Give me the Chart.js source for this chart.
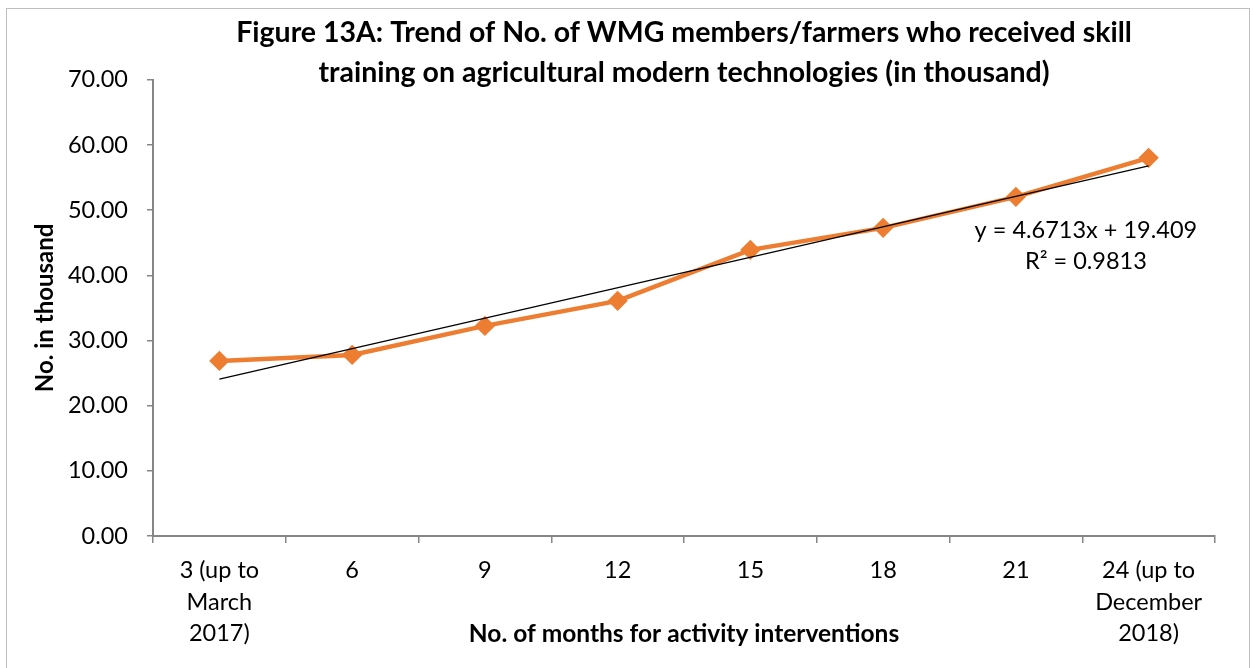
<!DOCTYPE html>
<html lang="en">
<head>
<meta charset="UTF-8">
<title>Figure 13A</title>
<script src="https://cdn.jsdelivr.net/npm/chart.js@4.4.1/dist/chart.umd.min.js"></script>
<style>
  html, body { margin: 0; padding: 0; background: #fff; }
  #wrap { position: relative; width: 1253px; height: 668px; overflow: hidden; }
  #frame { position: absolute; left: 6px; top: 8px; width: 1244px; height: 670px; border: 1px solid #bfbfbf; box-sizing: border-box; }
  canvas { position: absolute; left: 0; top: 0; }
</style>
</head>
<body>
<div id="wrap">
  <div id="frame"></div>
  <canvas id="chart" width="1253" height="668"></canvas>
</div>
<script>
// months since start of interventions
var months = [
  ['3 (up to', 'March', '2017)'],
  '6', '9', '12', '15', '18', '21',
  ['24 (up to', 'December', '2018)']
];
// No. of WMG members/farmers trained (thousand)
var trained = [26.87, 27.79, 32.24, 36.08, 43.90, 47.28, 52.04, 58.03];
// linear trendline, ends
var trend = [24.08, null, null, null, null, null, null, 56.78];
var trendLabel = ['y = 4.6713x + 19.409', 'R\u00b2 = 0.9813'];

var FONT = 'Lato, "Open Sans", sans-serif';
var axisGray = '#868686';

// equation text next to the end of the trendline
var trendText = {
  id: 'trendText',
  afterDatasetsDraw: function(chart) {
    var ctx = chart.ctx;
    var xs = chart.scales.x, ys = chart.scales.y;
    var x = xs.getPixelForValue(6) + 70;
    var y = ys.getPixelForValue(46.95);
    ctx.save();
    ctx.fillStyle = '#000';
    ctx.font = '23.5px ' + FONT;
    ctx.textAlign = 'center';
    ctx.textBaseline = 'middle';
    ctx.fillText(trendLabel[0], x, y);
    ctx.fillText(trendLabel[1], x, y + 31);
    ctx.restore();
  }
};

new Chart(document.getElementById('chart').getContext('2d'), {
  type: 'line',
  data: {
    labels: months,
    datasets: [{
      label: 'Trained',
      data: trained,
      borderColor: '#ed7d31',
      backgroundColor: '#ed7d31',
      borderWidth: 4.5,
      pointStyle: 'rectRot',
      pointRadius: 7,
      pointHoverRadius: 7,
      tension: 0,
      order: 2
    }, {
      label: 'Linear',
      data: trend,
      borderColor: '#000',
      borderWidth: 1.2,
      pointRadius: 0,
      spanGaps: true,
      tension: 0,
      order: 1
    }]
  },
  options: {
    responsive: false,
    animation: false,
    layout: { padding: { left: 20, right: 38, top: 0, bottom: 8 } },
    plugins: {
      legend: { display: false },
      tooltip: { enabled: false },
      title: {
        display: true,
        fullSize: false,
        text: ['Figure 13A: Trend of No. of WMG members/farmers who received skill',
               'training on agricultural modern technologies (in thousand)'],
        color: '#000',
        font: { family: FONT, size: 28.5, weight: 'bold', lineHeight: 1.4 },
        padding: { top: 13, bottom: -13 }
      }
    },
    scales: {
      x: {
        offset: true,
        afterFit: function(s) { s.height = 668 - 8 - 536; },
        grid: { offset: true, drawOnChartArea: false, drawTicks: true, tickLength: 7, color: axisGray, lineWidth: 1.5 },
        border: { color: axisGray, width: 2 },
        ticks: { color: '#000', font: { family: FONT, size: 23.5, lineHeight: 1.34 }, padding: 12, maxRotation: 0, autoSkip: false },
        title: {
          display: true,
          text: 'No. of months for activity interventions',
          color: '#000',
          font: { family: FONT, size: 24.5, weight: 'bold', lineHeight: 1.2 },
          padding: { top: 0, bottom: 11 }
        }
      },
      y: {
        min: 0,
        max: 70,
        afterFit: function(s) { s.width = 153 - 20; },
        grid: { drawOnChartArea: false, drawTicks: true, tickLength: 6, color: axisGray, lineWidth: 1.5 },
        border: { color: axisGray, width: 2 },
        ticks: {
          stepSize: 10,
          color: '#000',
          font: { family: FONT, size: 23.5 },
          padding: 19,
          callback: function(v) { return Number(v).toFixed(2); }
        },
        title: {
          display: true,
          text: 'No. in thousand',
          color: '#000',
          font: { family: FONT, size: 24, weight: 'bold', lineHeight: 1.2 },
          padding: { top: 11, bottom: 0 }
        }
      }
    }
  },
  plugins: [trendText]
});
</script>
</body>
</html>
